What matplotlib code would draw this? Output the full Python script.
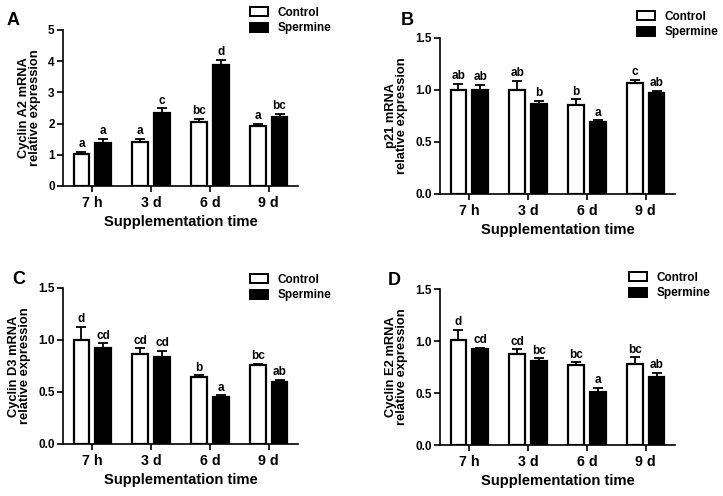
import numpy as np
import matplotlib
matplotlib.use("Agg")
import matplotlib.pyplot as plt
from matplotlib.patches import Patch

plt.rcParams['font.family'] = ['Liberation Sans', 'DejaVu Sans']
plt.rcParams['font.weight'] = 'bold'

times = ["7 h", "3 d", "6 d", "9 d"]

# panel A - Cyclin A2
a_ctrl = [1.01, 1.40, 2.05, 1.91]
a_ctrl_err = [0.09, 0.11, 0.11, 0.09]
a_sper = [1.37, 2.35, 3.88, 2.22]
a_sper_err = [0.14, 0.14, 0.16, 0.09]
a_ctrl_lab = ["a", "a", "bc", "a"]
a_sper_lab = ["a", "c", "d", "bc"]

# panel B - p21
b_ctrl = [1.00, 1.00, 0.86, 1.065]
b_ctrl_err = [0.06, 0.09, 0.05, 0.035]
b_sper = [1.00, 0.867, 0.69, 0.975]
b_sper_err = [0.05, 0.03, 0.02, 0.02]
b_ctrl_lab = ["ab", "ab", "b", "c"]
b_sper_lab = ["ab", "b", "a", "ab"]

# panel C - Cyclin D3
c_ctrl = [1.00, 0.87, 0.643, 0.758]
c_ctrl_err = [0.125, 0.05, 0.017, 0.016]
c_sper = [0.924, 0.838, 0.454, 0.60]
c_sper_err = [0.046, 0.057, 0.016, 0.02]
c_ctrl_lab = ["d", "cd", "b", "bc"]
c_sper_lab = ["cd", "cd", "a", "ab"]

# panel D - Cyclin E2
d_ctrl = [1.006, 0.872, 0.77, 0.78]
d_ctrl_err = [0.10, 0.05, 0.025, 0.063]
d_sper = [0.923, 0.805, 0.513, 0.65]
d_sper_err = [0.013, 0.028, 0.038, 0.045]
d_ctrl_lab = ["d", "cd", "bc", "bc"]
d_sper_lab = ["cd", "bc", "a", "ab"]

fig = plt.figure(figsize=(7.23, 4.96), dpi=100)


def panel(rect, letter, letter_xy, leg_xy, ylabel, ymax, ystep, fmt,
          ctrl, ctrl_err, sper, sper_err, ctrl_lab, sper_lab):
    ax = fig.add_axes(rect)
    x = np.arange(len(times))
    off = 0.186
    w = 0.27
    ax.bar(x - off, ctrl, w, color='white', edgecolor='black', linewidth=1.6, zorder=2)
    ax.bar(x + off, sper, w, color='black', edgecolor='black', linewidth=1.6, zorder=2)
    ax.errorbar(x - off, ctrl, yerr=[np.zeros(4), ctrl_err], fmt='none', ecolor='black',
                elinewidth=1.3, capsize=3.5, capthick=1.3, zorder=1)
    ax.errorbar(x + off, sper, yerr=[np.zeros(4), sper_err], fmt='none', ecolor='black',
                elinewidth=1.3, capsize=3.5, capthick=1.3, zorder=1)
    pad = ymax * 0.01
    for i in range(4):
        ax.text(x[i] - off, ctrl[i] + ctrl_err[i] + pad, ctrl_lab[i], ha='center', va='bottom',
                fontsize=8.5, fontweight='bold')
        ax.text(x[i] + off, sper[i] + sper_err[i] + pad, sper_lab[i], ha='center', va='bottom',
                fontsize=8.5, fontweight='bold')
    ax.set_xlim(-0.5, 3.5)
    ax.set_ylim(0, ymax)
    ticks = np.arange(0, ymax + ystep / 2, ystep)
    ax.set_yticks(ticks)
    ax.set_yticklabels([fmt % v for v in ticks], fontsize=8.5)
    ax.set_xticks(x)
    ax.set_xticklabels(times, fontsize=10.3, fontweight='bold')
    ax.tick_params(axis='both', direction='out', width=1.2, length=4)
    ax.tick_params(axis='x', pad=3)
    ax.tick_params(axis='y', pad=2)
    for s in ['top', 'right']:
        ax.spines[s].set_visible(False)
    for s in ['left', 'bottom']:
        ax.spines[s].set_linewidth(1.2)
    ax.set_xlabel("Supplementation time", fontsize=10.6, fontweight='bold', labelpad=4)
    ax.set_ylabel(ylabel, fontsize=9.3, fontweight='bold', labelpad=5, linespacing=0.9)
    fig.text(letter_xy[0], letter_xy[1], letter, fontsize=13, fontweight='bold',
             ha='left', va='top')
    handles = [Patch(facecolor='white', edgecolor='black', linewidth=1.4),
               Patch(facecolor='black', edgecolor='black', linewidth=1.4)]
    fig.legend(handles, ["Control", "Spermine"], loc='upper left',
               bbox_to_anchor=leg_xy, frameon=False, fontsize=8.5,
               handlelength=1.55, handleheight=0.8, handletextpad=0.75,
               labelspacing=0.28, borderpad=0, borderaxespad=0)
    return ax


H = 156 / 496
W = 235 / 723
panel([63 / 723, 1 - 186 / 496, W, H], "A", (7 / 723, 1 - 12 / 496), (250 / 723, 1 - 7 / 496),
      "Cyclin A2 mRNA\nrelative expression", 5, 1, "%d",
      a_ctrl, a_ctrl_err, a_sper, a_sper_err, a_ctrl_lab, a_sper_lab)
panel([440 / 723, 1 - 194 / 496, W, H], "B", (401 / 723, 1 - 12 / 496), (637 / 723, 1 - 11 / 496),
      "p21 mRNA\nrelative expression", 1.5, 0.5, "%.1f",
      b_ctrl, b_ctrl_err, b_sper, b_sper_err, b_ctrl_lab, b_sper_lab)
panel([63 / 723, 1 - 444 / 496, W, H], "C", (12 / 723, 1 - 271 / 496), (250 / 723, 1 - 274 / 496),
      "Cyclin D3 mRNA\nrelative expression", 1.5, 0.5, "%.1f",
      c_ctrl, c_ctrl_err, c_sper, c_sper_err, c_ctrl_lab, c_sper_lab)
panel([440 / 723, 1 - 445 / 496, W, H], "D", (388 / 723, 1 - 272 / 496), (629 / 723, 1 - 272 / 496),
      "Cyclin E2 mRNA\nrelative expression", 1.5, 0.5, "%.1f",
      d_ctrl, d_ctrl_err, d_sper, d_sper_err, d_ctrl_lab, d_sper_lab)

fig.savefig("out.png", dpi=100)
